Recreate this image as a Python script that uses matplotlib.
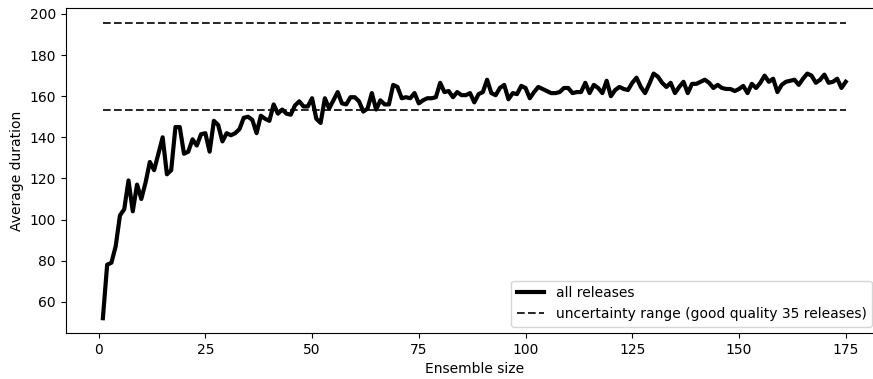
import numpy as np
import matplotlib
matplotlib.use("Agg")
import matplotlib.pyplot as plt

# average duration for ensemble sizes 1..175
ensemble_size = np.arange(1, 176)
avg_duration = [
    52, 78, 79, 87, 102, 105, 119, 104, 117, 110,
    118, 128, 124, 132, 140, 122, 124, 145, 145, 132,
    133, 139, 136, 141.5, 142, 133, 148, 146, 138, 142,
    141, 142, 144, 149.5, 150, 148.5, 142, 150.5, 149, 148,
    156, 151.5, 153.5, 151.5, 151, 155.5, 157.5, 155, 155, 159,
    149, 147, 159, 154, 158, 162, 156.5, 156, 159.5, 159.5,
    157.5, 152.5, 154, 161.5, 153.5, 158, 156, 156, 165.5, 164.5,
    159, 159.5, 159, 161.5, 156.5, 158, 159, 159, 159.5, 166.5,
    162, 162.5, 159.5, 162, 160.5, 160.5, 161.5, 157, 161, 162,
    168, 161.5, 160.5, 164, 165.5, 158.5, 161.5, 161, 165, 164,
    159, 162, 164.5, 163.5, 162.5, 161.5, 161.5, 162, 164, 164,
    161.5, 162, 162, 166.5, 161.5, 165.5, 164, 161.5, 167.5, 160,
    163, 164.5, 163.5, 163, 166.5, 169, 164.5, 161.5, 166, 171,
    169.5, 166.5, 164.5, 166.5, 161.5, 164.5, 167, 161.5, 166, 166,
    167, 168, 166.5, 164, 165.5, 164, 163.5, 163.5, 162.5, 163.5,
    165, 161.5, 166, 164, 166.5, 170, 167, 168.5, 162, 165.5,
    167, 167.5, 168, 165.5, 168.5, 171, 170, 166.5, 168, 170.5,
    166.5, 167, 168.5, 164, 167,
]

# uncertainty range from the good quality releases
range_low = 153.3
range_high = 195.8

fig = plt.figure(figsize=(8.73, 3.79), dpi=100)
# axes run past the right edge of the figure (the original was cropped there)
ax = fig.add_axes([0.0753, 0.1214, 0.936, 0.858])
ax.spines["right"].set_visible(False)

ax.plot(ensemble_size, avg_duration, color="black", lw=3, label="all releases")
ax.hlines([range_high, range_low], ensemble_size[0], ensemble_size[-1],
          colors="black", linestyles=(0, (4.6, 2.0)), lw=1.2,
          label="uncertainty range (good quality 35 releases)")

ax.set_xlabel("Ensemble size")
ax.set_ylabel("Average duration")
ax.set_xticks([0, 25, 50, 75, 100, 125, 150, 175])
ax.set_yticks([60, 80, 100, 120, 140, 160, 180, 200])

ax.legend(loc="lower right", bbox_to_anchor=(872 / 873, 1 - 326.7 / 379),
          bbox_transform=fig.transFigure, borderaxespad=0)

fig.savefig("out.png", dpi=100)
